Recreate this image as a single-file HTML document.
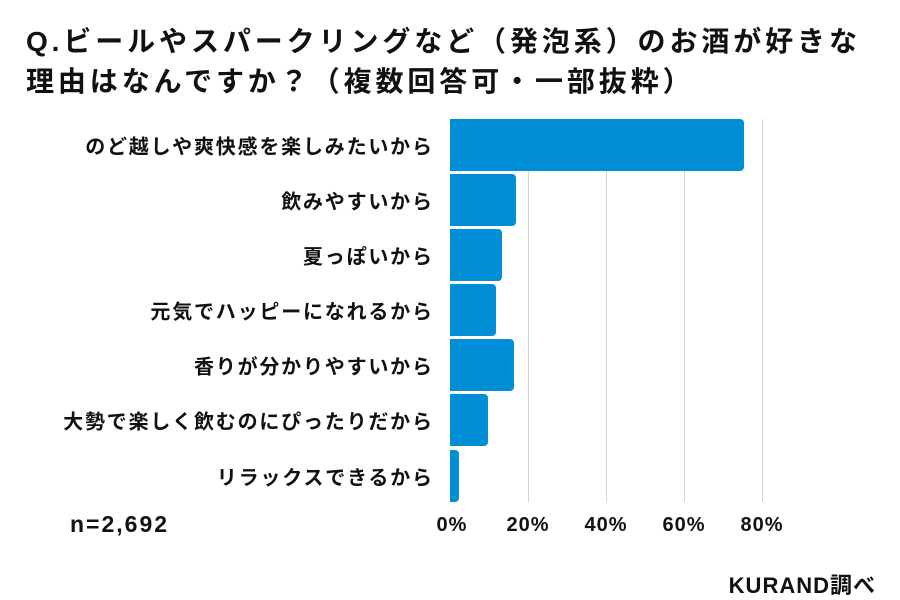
<!DOCTYPE html>
<html><head><meta charset="utf-8"><style>
body{margin:0;width:900px;height:600px;background:#fff;font-family:"Liberation Sans","Noto Sans CJK JP",sans-serif;color:#111;position:relative;overflow:hidden}
.t{position:absolute;left:26px;font-size:28px;font-weight:bold;white-space:nowrap;letter-spacing:3.9px;line-height:34px}
.lab{position:absolute;right:468px;font-size:20px;font-weight:bold;white-space:nowrap;transform:translateY(-50%);letter-spacing:1.8px;margin-right:-1.8px}
.bar{position:absolute;left:450px;height:52px;background:#008fd6;border-radius:0 4px 4px 0}
.g{position:absolute;top:119px;height:383px;width:1px;background:#d4d4d4}
.tk{position:absolute;top:514px;font-size:20px;font-weight:bold;transform:translateX(-50%);letter-spacing:1px}
</style></head><body>
<div class="t" style="top:25px">Q.ビールやスパークリングなど（発泡系）のお酒が好きな</div>
<div class="t" style="top:65px">理由はなんですか？（複数回答可・一部抜粋）</div>
<div class="g" style="left:528px"></div><div class="g" style="left:606px"></div><div class="g" style="left:684px"></div><div class="g" style="left:762px"></div>
<div class="bar" style="top:119px;width:294px"></div>
<div class="bar" style="top:174px;width:66px"></div>
<div class="bar" style="top:229px;width:52px"></div>
<div class="bar" style="top:284px;width:46px"></div>
<div class="bar" style="top:339px;width:64px"></div>
<div class="bar" style="top:394px;width:38px"></div>
<div class="bar" style="top:450px;width:9px"></div>
<div class="lab" style="top:145px">のど越しや爽快感を楽しみたいから</div>
<div class="lab" style="top:200px">飲みやすいから</div>
<div class="lab" style="top:255px">夏っぽいから</div>
<div class="lab" style="top:310px">元気でハッピーになれるから</div>
<div class="lab" style="top:365px">香りが分かりやすいから</div>
<div class="lab" style="top:420px">大勢で楽しく飲むのにぴったりだから</div>
<div class="lab" style="top:476px">リラックスできるから</div>
<div style="position:absolute;left:70px;top:511px;font-size:23px;font-weight:bold;letter-spacing:2px">n=2,692</div>
<div class="tk" style="left:452px">0%</div><div class="tk" style="left:528px">20%</div><div class="tk" style="left:606px">40%</div><div class="tk" style="left:684px">60%</div><div class="tk" style="left:762px">80%</div>
<div style="position:absolute;right:24px;top:568px;font-size:22px;font-weight:bold;letter-spacing:1px">KURAND調べ</div>
</body></html>
